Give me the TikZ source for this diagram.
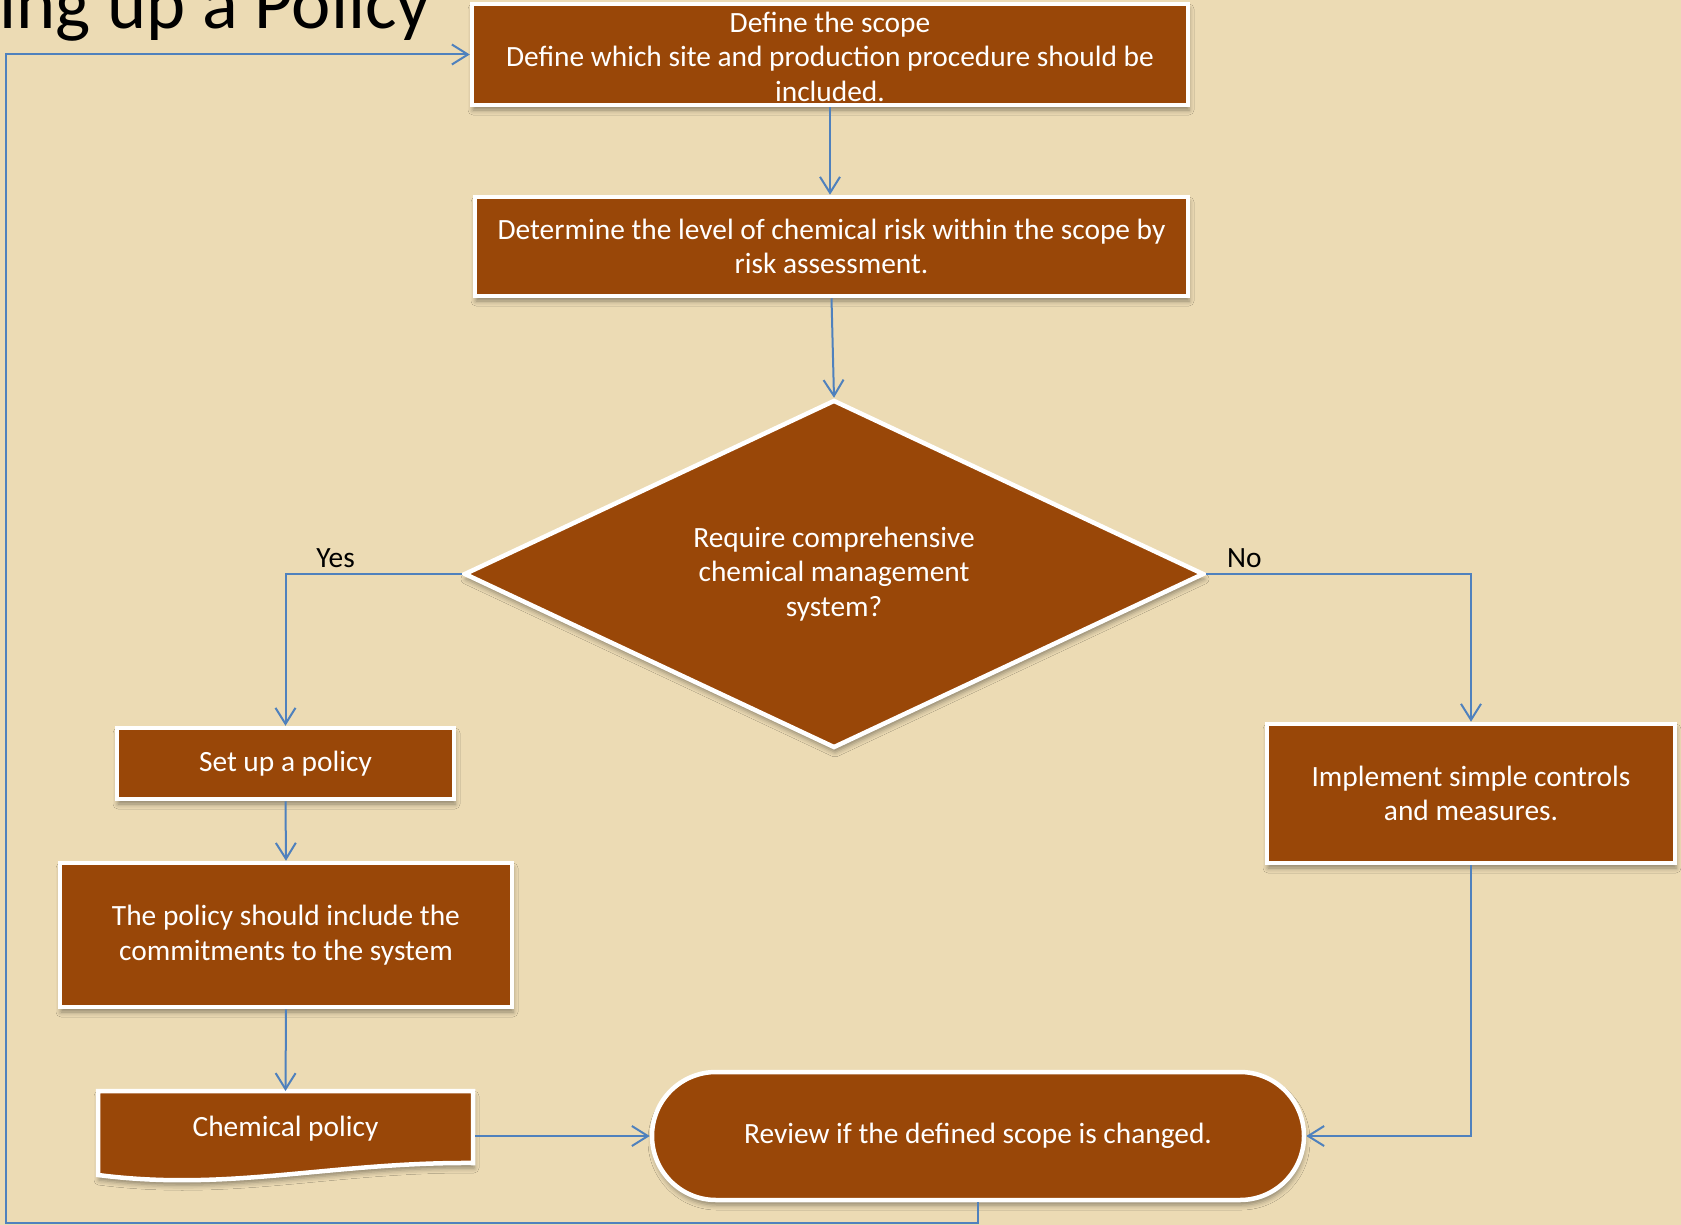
\documentclass[tikz,border=0pt]{standalone}
\usepackage{fontspec}
\setmainfont{Carlito}
\usepackage{xcolor}
\usepackage{tikz}
\usetikzlibrary{positioning, arrows.meta, calc, shapes.geometric, shadows.blur}
\definecolor{parch}{RGB}{236,219,180}
\definecolor{rust}{RGB}{153,71,8}
\definecolor{linkblue}{RGB}{79,129,189}
\tikzset{
  shade/.style={blur shadow={shadow xshift=1pt, shadow yshift=-5pt,
                shadow blur radius=5pt, shadow opacity=40}},
  blk/.style={draw=white, line width=4.5pt, fill=rust, text=white, shade,
              align=center, font=\fontsize{29.4}{34.5}\selectfont, inner sep=0pt},
  dec/.style={blk, diamond, aspect=2, minimum width=740pt, minimum height=348pt},
  docshape/.style={draw=white, line width=4.5pt, fill=rust, shade},
  txt/.style={text=white, align=center, font=\fontsize{29.4}{34.5}\selectfont,
              inner sep=0pt, outer sep=0pt},
  arr/.style={-{Straight Barb[length=16pt, width=20pt]}, draw=linkblue,
              line width=2pt},
  lbl/.style={font=\fontsize{29.4}{34.5}\selectfont, inner sep=0pt, text=black},
}
\begin{document}
\begin{tikzpicture}[x=1pt, y=-1pt]
  \useasboundingbox (0,0) rectangle (1681,1225);
  \clip (0,0) rectangle (1681,1225);
  \fill[parch] (0,0) rectangle (1681,1225);

  % title, cut off at the page edge
  \node[lbl, anchor=base west, font=\fontsize{74.5}{82}\selectfont] (title)
    at (-1,29) {ing up a Policy};

  % ---- main column ----
  \node[blk, minimum width=716pt, minimum height=101pt] (scope) at (830,54.5) {};
  \node[txt] (scopetxt) at ([yshift=-2pt]scope.center)
    {Define the scope\\Define which site and production procedure should be\\included.};
  \node[blk, minimum width=713pt, minimum height=99pt] (level) at (831.5,246.5)
    {Determine the level of chemical risk within the scope by\\risk assessment.};
  \node[dec] (decide) at (834,574)
    {Require comprehensive\\chemical management\\system?};

  % ---- yes branch ----
  \node[blk, minimum width=337pt, minimum height=71pt] (setup) at (285.5,763.5)
    {Set up a policy};
  \node[blk, minimum width=452pt, minimum height=144pt] (include) at (286,935)
    {The policy should include the\\commitments to the system};
  \path[docshape] (98,1091) -- (473,1091) -- (473,1163)
    .. controls (330,1162) and (230,1192) .. (98,1175) -- cycle;
  \node[txt, minimum width=379pt, minimum height=76pt] (chempol) at (285.5,1129)
    {Chemical policy};

  % ---- no branch ----
  \node[blk, minimum width=408pt, minimum height=139pt] (implement) at (1471,793.5)
    {Implement simple controls\\and measures.};
  \node[blk, rounded corners=64pt, minimum width=652pt, minimum height=128pt]
    (review) at (978,1136) {Review if the defined scope is changed.};

  % connectors
  \draw[arr] (scope.south) -- (scope.south |- level.north);
  \draw[arr] (level.south) -- (decide.north);
  \draw[arr] (decide.west) -| node[lbl, above=5pt, pos=0.358] (yes) {Yes} (setup.north);
  \draw[arr] (decide.east) -| node[lbl, above=5pt, pos=0.072] (no) {No} (implement.north);
  \draw[arr] (setup.south) -- (include.north);
  \draw[arr] (include.south) -- (chempol.north);
  \draw[arr] (chempol.east |- review.west) -- (review.west);
  \draw[arr] (implement.south) |- (review.east);
  \coordinate (loop) at (6,1223);
  \draw[arr] (review.south) |- (loop) |- (scope.west);
\end{tikzpicture}
\end{document}
